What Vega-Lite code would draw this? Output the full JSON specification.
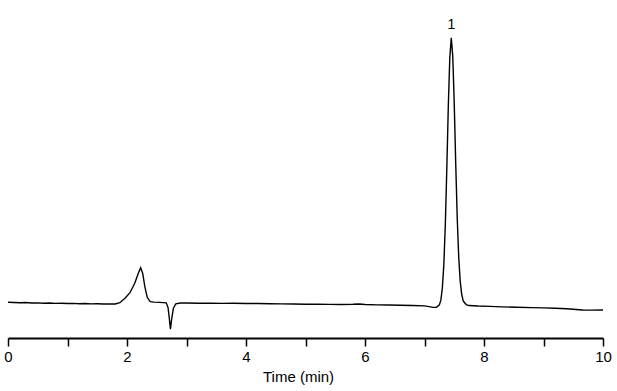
{
  "$schema": "https://vega.github.io/schema/vega-lite/v6.json",
  "width": 595,
  "height": 338,
  "autosize": {"type": "none"},
  "padding": {"left": 8, "top": 0, "right": 14, "bottom": 53},
  "background": "white",
  "config": {
    "view": {"stroke": null},
    "font": "Liberation Sans"
  },
  "datasets": {
    "trace": [
      {"t": 0.00, "s": 10.56}, {"t": 0.10, "s": 10.5}, {"t": 0.20, "s": 10.45}, {"t": 0.30, "s": 10.5},
      {"t": 0.40, "s": 10.35}, {"t": 0.50, "s": 10.4}, {"t": 0.60, "s": 10.3}, {"t": 0.70, "s": 10.35},
      {"t": 0.80, "s": 10.25}, {"t": 0.90, "s": 10.3}, {"t": 1.00, "s": 10.2}, {"t": 1.10, "s": 10.25},
      {"t": 1.20, "s": 10.15}, {"t": 1.30, "s": 10.2}, {"t": 1.40, "s": 10.1}, {"t": 1.50, "s": 10.15},
      {"t": 1.60, "s": 10.05}, {"t": 1.70, "s": 10.1}, {"t": 1.80, "s": 10.06}, {"t": 1.88, "s": 10.44},
      {"t": 1.97, "s": 11.83}, {"t": 2.05, "s": 13.4}, {"t": 2.13, "s": 16.18}, {"t": 2.19, "s": 19.14},
      {"t": 2.23, "s": 20.8}, {"t": 2.264, "s": 19.14}, {"t": 2.30, "s": 15.18}, {"t": 2.34, "s": 12.04},
      {"t": 2.39, "s": 10.74}, {"t": 2.45, "s": 10.6}, {"t": 2.55, "s": 10.55}, {"t": 2.66, "s": 10.4},
      {"t": 2.69, "s": 9.0}, {"t": 2.71, "s": 6.0}, {"t": 2.73, "s": 2.6}, {"t": 2.75, "s": 5.5},
      {"t": 2.78, "s": 8.8}, {"t": 2.82, "s": 10.1}, {"t": 2.90, "s": 10.35}, {"t": 3.0, "s": 10.36},
      {"t": 3.2, "s": 10.3}, {"t": 3.4, "s": 10.33}, {"t": 3.6, "s": 10.25}, {"t": 3.8, "s": 10.28},
      {"t": 4.0, "s": 10.2}, {"t": 4.2, "s": 10.22}, {"t": 4.4, "s": 10.15}, {"t": 4.6, "s": 10.1},
      {"t": 4.8, "s": 10.05}, {"t": 5.0, "s": 9.97}, {"t": 5.2, "s": 10.0}, {"t": 5.4, "s": 9.95},
      {"t": 5.6, "s": 9.9}, {"t": 5.8, "s": 9.97}, {"t": 5.9, "s": 10.08}, {"t": 6.0, "s": 9.9},
      {"t": 6.2, "s": 9.8}, {"t": 6.4, "s": 9.75}, {"t": 6.6, "s": 9.67},
      {"t": 6.8, "s": 9.6}, {"t": 7.0, "s": 9.5}, {"t": 7.1, "s": 9.2}, {"t": 7.14, "s": 9.05},
      {"t": 7.2, "s": 9.1}, {"t": 7.25, "s": 9.8}, {"t": 7.275, "s": 11.2}, {"t": 7.30, "s": 14.8},
      {"t": 7.325, "s": 21.7}, {"t": 7.35, "s": 33.6}, {"t": 7.375, "s": 50.1}, {"t": 7.40, "s": 68.4},
      {"t": 7.425, "s": 82.8}, {"t": 7.45, "s": 88.8}, {"t": 7.475, "s": 83.4}, {"t": 7.50, "s": 69.2},
      {"t": 7.525, "s": 51.5}, {"t": 7.55, "s": 35.5}, {"t": 7.575, "s": 24.0}, {"t": 7.60, "s": 16.8},
      {"t": 7.625, "s": 13.0}, {"t": 7.65, "s": 11.0}, {"t": 7.70, "s": 9.9}, {"t": 7.75, "s": 9.6},
      {"t": 7.9, "s": 9.45}, {"t": 8.1, "s": 9.35}, {"t": 8.3, "s": 9.2}, {"t": 8.55, "s": 9.08},
      {"t": 8.8, "s": 9.0}, {"t": 9.0, "s": 8.9}, {"t": 9.2, "s": 8.8}, {"t": 9.39, "s": 8.67},
      {"t": 9.5, "s": 8.5}, {"t": 9.6, "s": 8.35}, {"t": 9.66, "s": 8.28}, {"t": 9.8, "s": 8.25},
      {"t": 10.0, "s": 8.28}
    ],
    "peaks": [
      {"t": 7.45, "s": 88.8, "label": "1"}
    ]
  },
  "layer": [
    {
      "data": {"name": "trace"},
      "mark": {"type": "line", "color": "black", "strokeWidth": 1.4, "clip": false},
      "encoding": {
        "x": {
          "field": "t", "type": "quantitative",
          "scale": {"domain": [0, 10], "nice": false, "zero": false},
          "axis": {
            "title": "Time (min)",
            "values": [0, 1, 2, 3, 4, 5, 6, 7, 8, 9, 10],
            "format": "d",
            "labelExpr": "datum.value % 2 === 0 ? datum.label : ''",
            "grid": false,
            "domainColor": "black",
            "domainWidth": 1.8,
            "tickColor": "black",
            "tickWidth": 1.5,
            "tickSize": 8,
            "labelColor": "black",
            "labelFontSize": 15,
            "labelFont": "Liberation Sans",
            "labelPadding": 3,
            "labelFlush": false,
            "titleColor": "black",
            "titleFontSize": 15,
            "titleFont": "Liberation Sans",
            "titleFontWeight": "normal",
            "titleX": 290,
            "titleY": 43,
            "titleAlign": "center",
            "titleBaseline": "alphabetic"
          }
        },
        "y": {
          "field": "s", "type": "quantitative",
          "scale": {"domain": [0, 100], "nice": false, "zero": false},
          "axis": null
        }
      }
    },
    {
      "data": {"name": "peaks"},
      "mark": {"type": "text", "color": "black", "fontSize": 14, "font": "Liberation Sans", "baseline": "middle", "align": "center", "dy": -13},
      "encoding": {
        "x": {"field": "t", "type": "quantitative"},
        "y": {"field": "s", "type": "quantitative"},
        "text": {"field": "label"}
      }
    }
  ]
}
